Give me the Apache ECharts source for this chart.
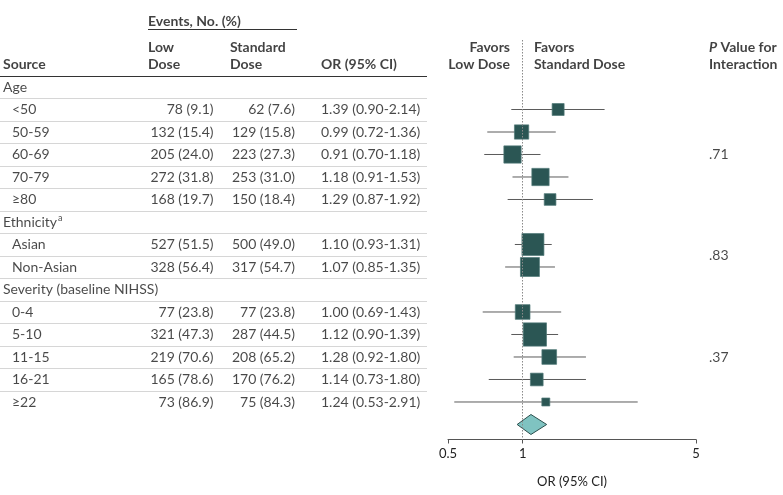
<!DOCTYPE html>
<html><head><meta charset="utf-8">
<script src="https://cdn.jsdelivr.net/npm/echarts@6/dist/echarts.min.js"></script>
<style>html,body{margin:0;padding:0;background:#fff}#c{width:783px;height:495px}</style>
</head><body><div id="c"></div>
<script>
// ---------- data ----------
const rowLabels = ['Age','<50','50-59','60-69','70-79','≥80','Ethnicity','Asian','Non-Asian','Severity (baseline NIHSS)','0-4','5-10','11-15','16-21','≥22'];
const isGroup   = [1,0,0,0,0,0,1,0,0,1,0,0,0,0,0];
const lowDose   = ['','78 (9.1)','132 (15.4)','205 (24.0)','272 (31.8)','168 (19.7)','','527 (51.5)','328 (56.4)','','77 (23.8)','321 (47.3)','219 (70.6)','165 (78.6)','73 (86.9)'];
const stdDose   = ['','62 (7.6)','129 (15.8)','223 (27.3)','253 (31.0)','150 (18.4)','','500 (49.0)','317 (54.7)','','77 (23.8)','287 (44.5)','208 (65.2)','170 (76.2)','75 (84.3)'];
const orText    = ['','1.39 (0.90-2.14)','0.99 (0.72-1.36)','0.91 (0.70-1.18)','1.18 (0.91-1.53)','1.29 (0.87-1.92)','','1.10 (0.93-1.31)','1.07 (0.85-1.35)','','1.00 (0.69-1.43)','1.12 (0.90-1.39)','1.28 (0.92-1.80)','1.14 (0.73-1.80)','1.24 (0.53-2.91)'];
const orValue   = [null,1.39,0.99,0.91,1.18,1.29,null,1.10,1.07,null,1.00,1.12,1.28,1.14,1.24];
const ciLow     = [null,0.90,0.72,0.70,0.91,0.87,null,0.93,0.85,null,0.69,0.90,0.92,0.73,0.53];
const ciHigh    = [null,2.14,1.36,1.18,1.53,1.92,null,1.31,1.35,null,1.43,1.39,1.80,1.80,2.91];
const boxWeight = [null,12,14.3,17.3,17.3,11.7,null,22,19,null,14.7,23.3,14.7,12.7,8]; // relative study weight
const overallOR = [1.08, 0.95, 1.25]; // estimate, low, high (read from diamond)
const pValues   = ['.71','.83','.37'];
const pValueRow = [3, 7.5, 12];
const axisTicks = [0.5, 1, 5];

// ---------- layout constants ----------
const FONT = 'Lato, "Open Sans", sans-serif';
const FS = 14;
const X_SRC = 3, X_SUB = 12, X_LOW = 213.5, X_STD = 295, X_OR = 321, X_LOWHDR = 148, X_STDHDR = 230;
const X_TABLE_END = 427, X_PVAL = 709, X_FAV_LOW = 510, X_FAV_STD = 534;
const ROW_DIAMOND = 15;

const chart = echarts.init(document.getElementById('c'), null, {renderer:'canvas'});

function textSeries(items, align, style) {
  return {
    type:'scatter', xAxisIndex:1, yAxisIndex:1, symbolSize:0, silent:true,
    data: items.map(it => ({value:[it[0], it[1]], name: it[2]})),
    label: Object.assign({
      show:true, position: align === 'left' ? 'right' : 'left', distance:0,
      formatter: p => p.name, fontFamily: FONT, fontSize: FS, color:'#1a1a1a'
    }, style || {})
  };
}

const textCells = [], lowCells = [], stdCells = [], orCells = [], groupCells = [];
rowLabels.forEach((l, i) => {
  if (isGroup[i]) groupCells.push([X_SRC, i, l === 'Ethnicity' ? 'Ethnicity{sup|a}' : l]);
  else textCells.push([X_SUB, i, l]);
  if (lowDose[i]) lowCells.push([X_LOW, i, lowDose[i]]);
  if (stdDose[i]) stdCells.push([X_STD, i, stdDose[i]]);
  if (orText[i]) orCells.push([X_OR, i, orText[i]]);
});
const pCells = pValues.map((p, k) => [X_PVAL, pValueRow[k], p]);

const hdrStyle = {fontWeight:'bold', color:'#111'};
const headerLeft = [
  [X_LOWHDR, -2.93, 'Events, No. (%)'],
  [X_LOWHDR, -1.75, 'Low'], [X_LOWHDR, -0.98, 'Dose'],
  [X_STDHDR, -1.75, 'Standard'], [X_STDHDR, -0.98, 'Dose'],
  [X_SRC, -0.98, 'Source'], [X_OR, -0.98, 'OR (95% CI)'],
  [X_FAV_STD, -1.75, 'Favors'], [X_FAV_STD, -0.98, 'Standard Dose'],
  [X_PVAL, -1.75, '{i|P} Value for'], [X_PVAL, -0.98, 'Interaction']
];
const headerRight = [
  [X_FAV_LOW, -1.75, 'Favors'], [X_FAV_LOW, -0.98, 'Low Dose']
];

const sepLines = [];
for (let i = 0; i < 14; i++) sepLines.push([{coord:[0, i + 0.5]}, {coord:[X_TABLE_END, i + 0.5]}]);

const forestData = [];
orValue.forEach((v, i) => { if (v != null) forestData.push([v, i, ciLow[i], ciHigh[i], boxWeight[i]]); });

const option = {
  animation:false,
  grid:[
    {left:448, width:248, top:40, height:399.5},
    {left:0, width:783, top:0, height:495}
  ],
  xAxis:[
    {type:'log', logBase:10, gridIndex:0, min:0.5, max:5,
     axisLine:{show:true, onZero:false, lineStyle:{color:'#555', width:1}},
     axisTick:{show:true, customValues:axisTicks, length:4, lineStyle:{color:'#555'}},
     axisLabel:{show:true, customValues:axisTicks, formatter: v => String(+v.toFixed(2)), fontFamily:FONT, fontSize:13, color:'#222', margin:8},
     minorTick:{show:false}, splitLine:{show:false},
     name:'OR (95% CI)', nameLocation:'middle', nameGap:36,
     nameTextStyle:{fontFamily:FONT, fontSize:13, color:'#222'}},
    {type:'value', gridIndex:1, min:0, max:783, show:false}
  ],
  yAxis:[
    {type:'value', gridIndex:0, inverse:true, min:-2.089, max:15.667, show:false},
    {type:'value', gridIndex:1, inverse:true, min:-3.867, max:18.133, show:false}
  ],
  series:[
    {
      type:'custom', xAxisIndex:0, yAxisIndex:0, clip:false, silent:true,
      data: forestData,
      encode:{x:[0,2,3], y:1},
      renderItem:(params, api) => {
        const y = api.value(1);
        const c = api.coord([api.value(0), y]);
        const l = api.coord([api.value(2), y]);
        const h = api.coord([api.value(3), y]);
        const s = api.value(4);
        return {type:'group', children:[
          {type:'line', shape:{x1:l[0], y1:c[1], x2:h[0], y2:c[1]}, style:{stroke:'#5b5b5b', lineWidth:1}},
          {type:'rect', shape:{x:c[0]-s/2, y:c[1]-s/2, width:s, height:s}, style:{fill:'#2b5654', stroke:'#527a78', lineWidth:0.7}}
        ]};
      },
      markLine:{
        silent:true, symbol:['none','none'], label:{show:false},
        lineStyle:{color:'#8a8a8a', type:[1.5,1.5], width:1},
        data:[{xAxis:1}]
      }
    },
    {
      type:'custom', xAxisIndex:0, yAxisIndex:0, clip:false, silent:true,
      data:[[overallOR[0], ROW_DIAMOND, overallOR[1], overallOR[2]]],
      encode:{x:[0,2,3], y:1},
      renderItem:(params, api) => {
        const y = api.value(1);
        const c = api.coord([api.value(0), y]);
        const l = api.coord([api.value(2), y]);
        const h = api.coord([api.value(3), y]);
        const hh = 10;
        return {type:'polygon', shape:{points:[[l[0], c[1]], [c[0], c[1]-hh], [h[0], c[1]], [c[0], c[1]+hh]]},
          style:{fill:'#7fc3c1', stroke:'#2b4f4d', lineWidth:1}};
      }
    },
    // table lines
    {
      type:'scatter', xAxisIndex:1, yAxisIndex:1, symbolSize:0, silent:true, data:[],
      markLine:{silent:true, symbol:['none','none'], label:{show:false},
        lineStyle:{color:'#d6d6d6', type:'solid', width:1},
        data: sepLines}
    },
    {
      type:'scatter', xAxisIndex:1, yAxisIndex:1, symbolSize:0, silent:true, data:[],
      markLine:{silent:true, symbol:['none','none'], label:{show:false},
        lineStyle:{color:'#333', type:'solid', width:1},
        data:[
          [{coord:[0, -0.458]}, {coord:[X_TABLE_END, -0.458]}],
          [{coord:[X_LOWHDR, -2.564]}, {coord:[297, -2.564]}]
        ]}
    },
    textSeries(groupCells, 'left', {rich:{sup:{fontFamily:FONT, fontSize:9, padding:[0,0,7,1], color:'#1a1a1a'}}}),
    textSeries(textCells, 'left'),
    textSeries(lowCells, 'right'),
    textSeries(stdCells, 'right'),
    textSeries(orCells, 'left'),
    textSeries(pCells, 'left'),
    textSeries(headerLeft, 'left', Object.assign({rich:{i:{fontFamily:FONT, fontSize:FS, fontWeight:'bold', fontStyle:'italic', color:'#111'}}}, hdrStyle)),
    textSeries(headerRight, 'right', hdrStyle)
  ]
};
chart.setOption(option);
</script>
</body></html>
